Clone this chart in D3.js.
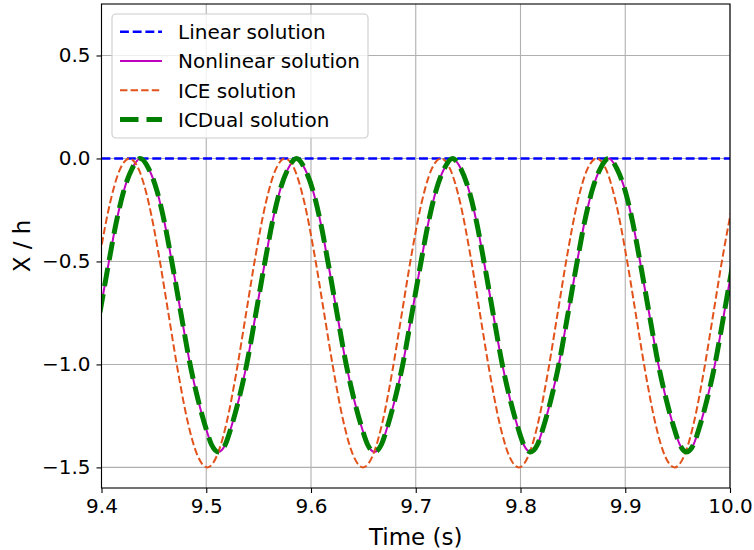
<!DOCTYPE html>
<html>
<head>
<meta charset="utf-8">
<script src="https://cdn.jsdelivr.net/npm/d3@7"></script>
<style>
  html, body { margin: 0; padding: 0; background: #fff; }
  svg { display: block; font-family: "DejaVu Sans", sans-serif; }
</style>
</head>
<body>
<svg id="chart" width="754" height="550"></svg>
<script>
// ---------- data ----------
const xTicks = [9.4, 9.5, 9.6, 9.7, 9.8, 9.9, 10.0];
const yTicks = [-1.5, -1.0, -0.5, 0.0, 0.5];
const seriesNames = ["Linear solution", "Nonlinear solution", "ICE solution", "ICDual solution"];

const linearT = [9.4, 10.0];
const linearX = [0, 0];

const nonlinearT = [
  9.3896, 9.3981, 9.4071, 9.4141, 9.4211, 9.4291, 9.4371,
  9.4451, 9.4531, 9.4601, 9.4671, 9.4761, 9.4846, 9.4921, 9.4991, 9.5051, 9.5116,
  9.5181, 9.5241, 9.5311, 9.5386, 9.5471, 9.5561, 9.5631, 9.5701, 9.5781, 9.5861,
  9.5941, 9.6021, 9.6091, 9.6161, 9.6251, 9.6336, 9.6411, 9.6481, 9.6541, 9.6606,
  9.6671, 9.6731, 9.6801, 9.6876, 9.6961, 9.7051, 9.7121, 9.7191, 9.7271, 9.7351,
  9.7431, 9.7511, 9.7581, 9.7651, 9.7741, 9.7826, 9.7901, 9.7971, 9.8031, 9.8096,
  9.8161, 9.8221, 9.8291, 9.8366, 9.8451, 9.8541, 9.8611, 9.8681, 9.8761, 9.8841,
  9.8921, 9.9001, 9.9071, 9.9141, 9.9231, 9.9316, 9.9391, 9.9461, 9.9521, 9.9586,
  9.9651, 9.9711, 9.9781, 9.9856, 9.9941, 10.0031, 10.0101
];
const nonlinearX = [
  -1.00, -0.76, -0.50, -0.31, -0.16, -0.05, 0,
  -0.05, -0.16, -0.31, -0.50, -0.76, -1.00, -1.17, -1.30, -1.39, -1.425,
  -1.39, -1.30, -1.17, -1.00, -0.76, -0.50, -0.31, -0.16, -0.05, 0,
  -0.05, -0.16, -0.31, -0.50, -0.76, -1.00, -1.17, -1.30, -1.39, -1.425,
  -1.39, -1.30, -1.17, -1.00, -0.76, -0.50, -0.31, -0.16, -0.05, 0,
  -0.05, -0.16, -0.31, -0.50, -0.76, -1.00, -1.17, -1.30, -1.39, -1.425,
  -1.39, -1.30, -1.17, -1.00, -0.76, -0.50, -0.31, -0.16, -0.05, 0,
  -0.05, -0.16, -0.31, -0.50, -0.76, -1.00, -1.17, -1.30, -1.39, -1.425,
  -1.39, -1.30, -1.17, -1.00, -0.76, -0.50, -0.31
];

const iceT = [
  9.3708, 9.3801, 9.3894, 9.3987, 9.4080, 9.4173, 9.4266,
  9.4359, 9.4452, 9.4545, 9.4638, 9.4731, 9.4824, 9.4917, 9.5010,
  9.5102, 9.5195, 9.5288, 9.5381, 9.5474, 9.5567, 9.5660, 9.5753,
  9.5846, 9.5939, 9.6032, 9.6125, 9.6218, 9.6311, 9.6404, 9.6497,
  9.6589, 9.6682, 9.6775, 9.6868, 9.6961, 9.7054, 9.7147, 9.7240,
  9.7333, 9.7426, 9.7519, 9.7612, 9.7705, 9.7798, 9.7891, 9.7984,
  9.8076, 9.8169, 9.8262, 9.8355, 9.8448, 9.8541, 9.8634, 9.8727,
  9.8820, 9.8913, 9.9006, 9.9099, 9.9192, 9.9285, 9.9378, 9.9471,
  9.9563, 9.9656, 9.9749, 9.9842, 9.9935, 10.0028, 10.0121
];
const iceX = [
  -1.281, -1.037, -0.75, -0.463, -0.219, -0.057, 0,
  -0.057, -0.219, -0.463, -0.75, -1.037, -1.281, -1.443, -1.50,
  -1.443, -1.281, -1.037, -0.75, -0.463, -0.219, -0.057, 0,
  -0.057, -0.219, -0.463, -0.75, -1.037, -1.281, -1.443, -1.50,
  -1.443, -1.281, -1.037, -0.75, -0.463, -0.219, -0.057, 0,
  -0.057, -0.219, -0.463, -0.75, -1.037, -1.281, -1.443, -1.50,
  -1.443, -1.281, -1.037, -0.75, -0.463, -0.219, -0.057, 0,
  -0.057, -0.219, -0.463, -0.75, -1.037, -1.281, -1.443, -1.50,
  -1.443, -1.281, -1.037, -0.75, -0.463, -0.219, -0.057
];

// ICDual coincides with the nonlinear solution in the picture
const icdualT = nonlinearT;
const icdualX = nonlinearX;

// ---------- layout ----------
const svg = d3.select("#chart");
const mLeft = 101.5, mRight = 730, mTop = 4, mBottom = 488;

const x = d3.scaleLinear().domain([9.4, 10.0]).range([mLeft, mRight]);
const y = d3.scaleLinear().domain([-1.6, 0.75]).range([mBottom, mTop]);

const fmtY = v => d3.format(".1f")(v).replace("-", "\u2212");

// grid
const grid = svg.append("g");
grid.selectAll("line.vx").data(xTicks).enter().append("line")
  .attr("x1", d => x(d)).attr("x2", d => x(d)).attr("y1", mTop).attr("y2", mBottom)
  .attr("stroke", "#b0b0b0").attr("stroke-width", 1.1);
grid.selectAll("line.hy").data(yTicks).enter().append("line")
  .attr("x1", mLeft).attr("x2", mRight).attr("y1", d => y(d)).attr("y2", d => y(d))
  .attr("stroke", "#b0b0b0").attr("stroke-width", 1.1);

// clip
svg.append("defs").append("clipPath").attr("id", "clip")
  .append("rect").attr("x", mLeft).attr("y", mTop).attr("width", mRight - mLeft).attr("height", mBottom - mTop);

const line = d3.line().x(d => x(d[0])).y(d => y(d[1])).curve(d3.curveMonotoneX);
const zip = (t, v) => t.map((ti, i) => [ti, v[i]]);

const styles = [
  { data: zip(linearT, linearX), color: "#0000ff", width: 2.4, dash: "8.9,3.8" },
  { data: zip(nonlinearT, nonlinearX), color: "#bf00bf", width: 2, dash: null },
  { data: zip(iceT, iceX), color: "#e2531b", width: 2, dash: "7.4,3.2" },
  { data: zip(icdualT, icdualX), color: "#008000", width: 5, dash: "18.5,8" }
];

const plot = svg.append("g").attr("clip-path", "url(#clip)");
styles.forEach(s => {
  plot.append("path").datum(s.data)
    .attr("d", line)
    .attr("fill", "none")
    .attr("stroke", s.color)
    .attr("stroke-width", s.width)
    .attr("stroke-dasharray", s.dash)
    .attr("stroke-linejoin", "round");
});

// axes
const xAxis = d3.axisBottom(x).tickValues(xTicks).tickFormat(d3.format(".1f")).tickSize(5).tickPadding(6);
const yAxis = d3.axisLeft(y).tickValues(yTicks).tickFormat(fmtY).tickSize(5).tickPadding(6);

const gx = svg.append("g").attr("transform", `translate(0,${mBottom})`).call(xAxis);
const gy = svg.append("g").attr("transform", `translate(${mLeft},0)`).call(yAxis);
[gx, gy].forEach(g => {
  g.select(".domain").remove();
  g.selectAll(".tick line").attr("stroke", "#000").attr("stroke-width", 1.1);
  g.selectAll(".tick text").attr("font-size", 20).attr("fill", "#000")
    .attr("font-family", "DejaVu Sans");
});

// frame
svg.append("rect").attr("x", mLeft).attr("y", mTop).attr("width", mRight - mLeft).attr("height", mBottom - mTop)
  .attr("fill", "none").attr("stroke", "#000").attr("stroke-width", 1.1);

// axis labels
svg.append("text").attr("x", (mLeft + mRight) / 2).attr("y", 545)
  .attr("text-anchor", "middle").attr("font-size", 23).text("Time (s)");
svg.append("text").attr("transform", `translate(30,${(mTop + mBottom) / 2}) rotate(-90)`)
  .attr("text-anchor", "middle").attr("font-size", 23).text("X / h");

// legend
const lg = svg.append("g");
lg.append("rect").attr("x", 112).attr("y", 14).attr("width", 256).attr("height", 124)
  .attr("rx", 4).attr("fill", "#fff").attr("fill-opacity", 0.8)
  .attr("stroke", "#cccccc").attr("stroke-width", 1.1);
const rowY = [31.7, 61, 90.3, 119.5];
styles.forEach((s, i) => {
  lg.append("line").attr("x1", 120).attr("x2", 162).attr("y1", rowY[i]).attr("y2", rowY[i])
    .attr("stroke", s.color).attr("stroke-width", s.width).attr("stroke-dasharray", s.dash);
  lg.append("text").attr("x", 178).attr("y", rowY[i]).attr("dy", "0.36em")
    .attr("font-size", 20).text(seriesNames[i]);
});
</script>
</body>
</html>
